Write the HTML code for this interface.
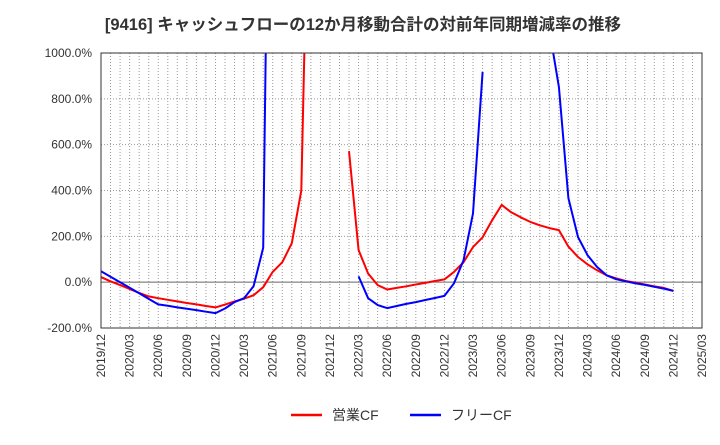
<!DOCTYPE html>
<html><head><meta charset="utf-8"><style>
body{margin:0;background:#fff;}
svg text{font-family:"Liberation Sans","Noto Sans CJK JP",sans-serif;fill:#333;}
</style></head><body>
<svg id="chart" width="720" height="440" xmlns="http://www.w3.org/2000/svg">
<text x="363" y="30" text-anchor="middle" font-size="16.5" font-weight="bold">[9416]  キャッシュフローの12か月移動合計の対前年同期増減率の推移</text>
<g id="grid"></g><g id="series"></g><g id="axes"></g>
<g>
<line x1="291" y1="415" x2="322" y2="415" stroke="#f00" stroke-width="2.5"/>
<text x="332" y="420" font-size="14">営業CF</text>
<line x1="410" y1="415" x2="441" y2="415" stroke="#00f" stroke-width="2.5"/>
<text x="451" y="420" font-size="14">フリーCF</text>
</g>
</svg>
<script>
const xTickLabels=["2019/12","2020/03","2020/06","2020/09","2020/12","2021/03","2021/06","2021/09","2021/12","2022/03","2022/06","2022/09","2022/12","2023/03","2023/06","2023/09","2023/12","2024/03","2024/06","2024/09","2024/12","2025/03"];
const yTicks=[-200,0,200,400,600,800,1000];
const operatingCF=[22,4,-13,-30,-47,-62,-70,-77,-84,-91,-97,-104,-110,-98,-84,-72,-57,-22,45,87,170,400,2300,null,null,null,572,140,38,-13,-32,-25,-18,-10,-3,5,12,45,87,153,196,270,337,305,283,263,248,236,227,155,110,78,52,30,17,5,-2,-10,-18,-25,-38];
const freeCF=[48,24,0,-24,-48,-73,-97,-103,-110,-116,-122,-129,-135,-115,-87,-70,-17,150,3370,null,null,null,null,null,null,null,null,25,-70,-100,-113,-104,-95,-87,-78,-69,-60,-5,95,300,917,null,null,null,null,null,null,1100,852,367,197,118,66,30,13,4,-5,-12,-20,-28,-38];
const NS='http://www.w3.org/2000/svg';
const L=101,R=702,T=53,B=328,yMin=-200,yMax=1000,nMonths=63;
const xs=i=>L+(R-L)*i/nMonths;
const ys=v=>B-(B-T)*(v-yMin)/(yMax-yMin);
function mk(tag,at,parent){const e=document.createElementNS(NS,tag);for(const k in at)e.setAttribute(k,at[k]);parent.appendChild(e);return e;}
const grid=document.getElementById('grid'),axes=document.getElementById('axes'),ser=document.getElementById('series');
for(let m=1;m<nMonths;m++){const l=mk('line',{x1:xs(m),x2:xs(m),y1:T,y2:B,stroke:'#999','stroke-dasharray':'1,2','stroke-width':1},grid);

}
yTicks.forEach(v=>{const y=ys(v);
const l=mk('line',{x1:L,x2:R,y1:y,y2:y,stroke:v===0?'#666':'#999','stroke-dasharray':v===0?'':'1,2','stroke-width':1},grid);


const t=mk('text',{x:92,y:y+4,'text-anchor':'end','font-size':12},axes);t.textContent=v.toFixed(1)+'%';

});
xTickLabels.forEach((s,i)=>{const x=xs(i*3);
const t=mk('text',{x:0,y:0,'text-anchor':'end','font-size':12,transform:`translate(${x+4},334) rotate(-90)`},axes);t.textContent=s;

});
const frame=mk('rect',{x:L,y:T,width:R-L,height:B-T,fill:'none',stroke:'#333','stroke-width':1},axes);


const cp=mk('clipPath',{id:'cp'},ser);mk('rect',{x:L,y:T,width:R-L,height:B-T},cp);
function draw(data,color,name){let d='',pen=false;data.forEach((v,i)=>{if(v===null){pen=false;return;}d+=(pen?'L':'M')+xs(i).toFixed(1)+','+ys(v).toFixed(1);pen=true;});
const p=mk('path',{d:d,fill:'none',stroke:color,'stroke-width':2,'clip-path':'url(#cp)','stroke-linejoin':'round'},ser);

}
draw(operatingCF,'#f00','operating-cf-line');
draw(freeCF,'#00f','free-cf-line');
</script>
</body></html>
